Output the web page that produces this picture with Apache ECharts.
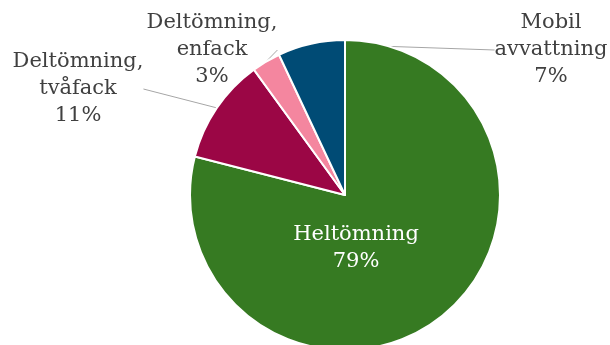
<!DOCTYPE html>
<html>
<head>
<meta charset="utf-8">
<script src="https://cdn.jsdelivr.net/npm/echarts@6/dist/echarts.min.js"></script>
<style>
html,body{margin:0;padding:0;background:#fff;}
#chart{width:610px;height:345px;}
</style>
</head>
<body>
<div id="chart"></div>
<script>
// kategorier och andelar (procent)
var categories = ['Heltömning', 'Deltömning, tvåfack', 'Deltömning, enfack', 'Mobil avvattning'];
var labelTexts = ['Heltömning', 'Deltömning,\ntvåfack', 'Deltömning,\nenfack', 'Mobil\navvattning'];
var shares = [79, 11, 3, 7];
var colors = ['#367a22', '#9b0645', '#f4869f', '#004b75'];

// var etiketterna hamnar
var labelPos = [[356, 248], [78, 89], [212, 50], [551, 50]];

var pieData = [];
for (var i = 0; i < categories.length; i++) {
	pieData.push({
		name: categories[i],
		value: shares[i],
		itemStyle: {color: colors[i]},
		label: i == 0 ? {color: '#ffffff'} : {},
		labelLine: {show: i != 0}
	});
}

var myChart = echarts.init(document.getElementById('chart'));
var option = {
	animation: false,
	series: [
		{
			type: 'pie',
			center: [345, 195],
			radius: 155,
			startAngle: 90,
			clockwise: true,
			itemStyle: {borderColor: '#ffffff', borderWidth: 2},
			label: {
				show: true,
				position: 'outside',
				fontFamily: 'Georgia, "DejaVu Serif", serif',
				fontSize: 21,
				lineHeight: 27,
				color: '#404040',
				align: 'center',
				formatter: function(p) {
					return labelTexts[p.dataIndex] + '\n' + shares[p.dataIndex] + '%';
				}
			},
			labelLine: {
				show: true,
				length: 0,
				length2: 0,
				lineStyle: {color: '#a6a6a6', width: 1}
			},
			labelLayout: function(params) {
				var pos = labelPos[params.dataIndex];
				return {
					x: pos[0],
					y: pos[1],
					align: 'center',
					verticalAlign: 'middle'
				};
			},
			data: pieData
		}
	]
};
myChart.setOption(option);
</script>
</body>
</html>
